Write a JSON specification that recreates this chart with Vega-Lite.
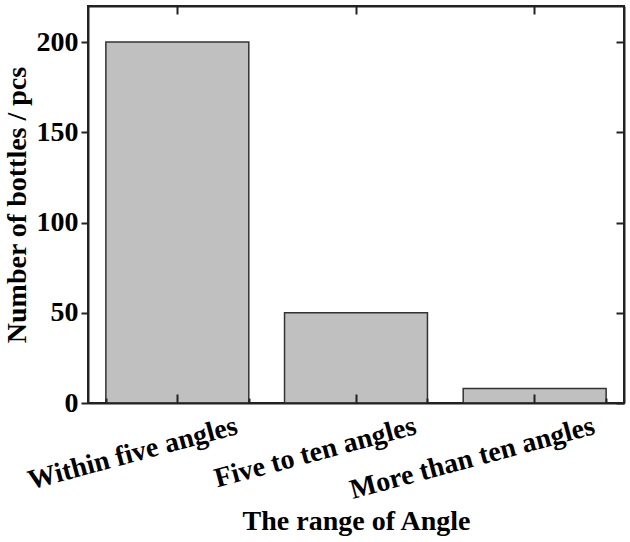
{
  "$schema": "https://vega.github.io/schema/vega-lite/v6.json",
  "width": 536,
  "height": 397,
  "autosize": {"type": "none"},
  "padding": {"left": 88, "top": 6, "right": 6, "bottom": 139},
  "background": "white",
  "config": {
    "font": "Liberation Serif",
    "view": {"stroke": "#222222", "strokeWidth": 2}
  },
  "data": {
    "values": [
      {"range": "Within five angles", "count": 200},
      {"range": "Five to ten angles", "count": 50},
      {"range": "More than ten angles", "count": 8}
    ]
  },
  "layer": [
    {
      "mark": {"type": "bar", "fill": "#c0c0c0", "stroke": "#333333", "strokeWidth": 1.5},
      "encoding": {
        "x": {
          "field": "range", "type": "nominal", "sort": null,
          "scale": {"paddingInner": 0.2, "paddingOuter": 0.1},
          "axis": {
            "orient": "bottom", "zindex": 1,
            "title": "The range of Angle",
            "titleFont": "Liberation Serif", "titleFontSize": 28, "titleFontWeight": "bold", "titleColor": "black",
            "titlePadding": 3,
            "labelFont": "Liberation Serif", "labelFontSize": 28, "labelFontWeight": "bold", "labelColor": "black",
            "labelLimit": 0, "labelOverlap": false,
            "labelAngle": -15, "labelAlign": "right", "labelBaseline": "top", "labelOffset": 56, "labelPadding": 18,
            "tickSize": -9, "tickColor": "#222222", "tickWidth": 2,
            "domainColor": "#222222", "domainWidth": 2, "grid": false
          }
        },
        "y": {
          "field": "count", "type": "quantitative",
          "scale": {"domain": [0, 220], "nice": false},
          "axis": {
            "orient": "left", "zindex": 1,
            "values": [0, 50, 100, 150, 200],
            "title": "Number of bottles / pcs",
            "titleFont": "Liberation Serif", "titleFontSize": 28, "titleFontWeight": "bold", "titleColor": "black",
            "titlePadding": 5,
            "labelFont": "Liberation Serif", "labelFontSize": 28, "labelFontWeight": "bold", "labelColor": "black",
            "labelPadding": 3,
            "tickSize": 7, "tickColor": "#222222", "tickWidth": 2,
            "domainColor": "#222222", "domainWidth": 2, "grid": false
          }
        }
      }
    },
    {
      "mark": {"type": "bar", "opacity": 0},
      "encoding": {
        "x": {
          "field": "range", "type": "nominal", "sort": null,
          "axis": {
            "orient": "top", "title": null, "labels": false, "zindex": 1,
            "tickSize": -8, "tickColor": "#222222", "tickWidth": 2,
            "domainColor": "#222222", "domainWidth": 2, "grid": false
          }
        },
        "y": {
          "field": "count", "type": "quantitative",
          "axis": {
            "orient": "right", "title": null, "labels": false, "zindex": 1,
            "values": [0, 50, 100, 150, 200],
            "tickSize": -8, "tickColor": "#222222", "tickWidth": 2,
            "domainColor": "#222222", "domainWidth": 2, "grid": false
          }
        }
      }
    },
    {
      "mark": {"type": "bar", "opacity": 0},
      "encoding": {
        "x": {
          "field": "range", "type": "nominal", "sort": null,
          "axis": {
            "orient": "bottom", "title": null, "labels": false, "domain": false, "zindex": 1,
            "tickBand": "extent",
            "tickSize": -5, "tickColor": "#222222", "tickWidth": 2, "grid": false
          }
        },
        "y": {
          "field": "count", "type": "quantitative",
          "axis": null
        }
      }
    }
  ],
  "resolve": {"axis": {"x": "independent", "y": "independent"}}
}
